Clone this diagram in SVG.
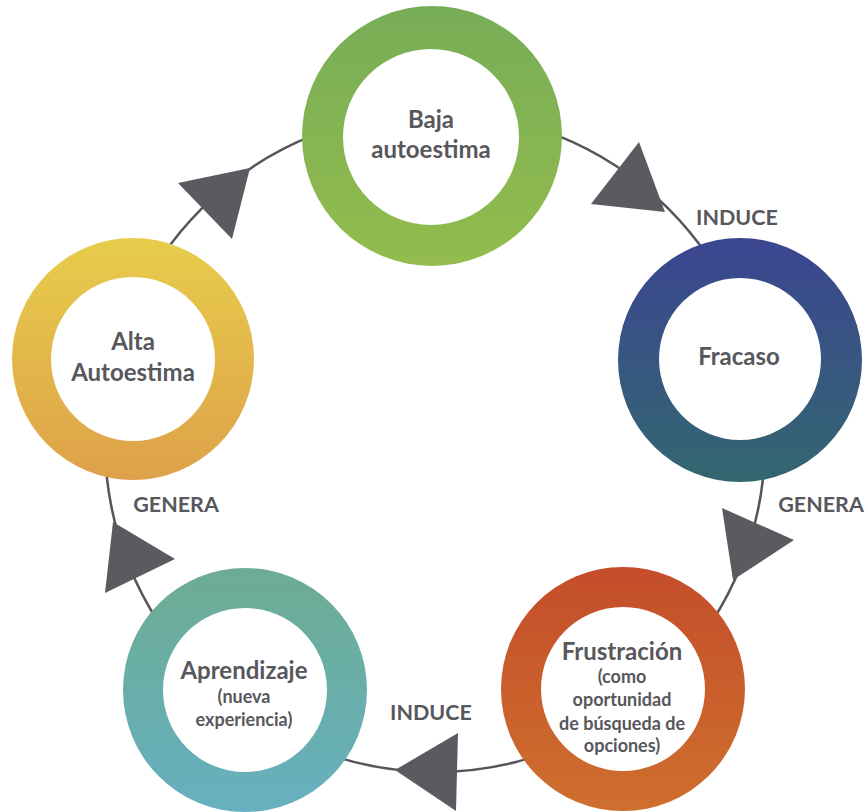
<svg xmlns="http://www.w3.org/2000/svg" width="868" height="812" viewBox="0 0 868 812">
  <defs>
    <linearGradient id="gGreen" x1="0" y1="0" x2="0" y2="1">
      <stop offset="0" stop-color="#77ad57"/>
      <stop offset="1" stop-color="#93bc4d"/>
    </linearGradient>
    <linearGradient id="gBlue" x1="0" y1="0" x2="0" y2="1">
      <stop offset="0" stop-color="#3b4591"/>
      <stop offset="1" stop-color="#336770"/>
    </linearGradient>
    <linearGradient id="gYellow" x1="0" y1="0" x2="0" y2="1">
      <stop offset="0" stop-color="#e7cd4b"/>
      <stop offset="1" stop-color="#dea14a"/>
    </linearGradient>
    <linearGradient id="gOrange" x1="0" y1="0" x2="0" y2="1">
      <stop offset="0" stop-color="#c44d2a"/>
      <stop offset="1" stop-color="#cf6f2e"/>
    </linearGradient>
    <linearGradient id="gTeal" x1="0" y1="0" x2="0" y2="1">
      <stop offset="0" stop-color="#6dac93"/>
      <stop offset="1" stop-color="#66b0c0"/>
    </linearGradient>
  </defs>
  <style>
    .inner { fill: #ffffff; }
    .t { font-family: Lato, "Open Sans", "Liberation Sans", sans-serif; font-weight: bold; fill: #57575c; text-anchor: middle; }
    .big { font-size: 24px; }
    .small { font-size: 18px; }
    .lbl { font-size: 21.5px; }
    .arc { fill: none; stroke: #55555a; stroke-width: 2.5; }
    .arrow { fill: #5b5a60; }
  </style>
  <rect width="868" height="812" fill="#ffffff"/>

  <g id="connectors">
    <circle class="arc" cx="435" cy="442" r="330"/>
    <polygon class="arrow" points="665,212 591,204 639,142"/>
    <polygon class="arrow" points="733,580 794,540 722,508"/>
    <polygon class="arrow" points="395,770 458,733 456,811"/>
    <polygon class="arrow" points="113,522 175,559 105,593"/>
    <polygon class="arrow" points="250,168 232,239 178,183"/>
    <text class="t lbl" x="737" y="225">INDUCE</text>
    <text class="t lbl" x="821" y="512">GENERA</text>
    <text class="t lbl" x="431" y="720">INDUCE</text>
    <text class="t lbl" x="176" y="512">GENERA</text>
  </g>

  <g id="baja">
    <circle cx="432" cy="136" r="130" fill="url(#gGreen)"/>
    <circle class="inner" cx="431" cy="137" r="88"/>
    <text class="t big" x="431" y="128">Baja</text>
    <text class="t big" x="431" y="158">autoestima</text>
  </g>

  <g id="fracaso">
    <circle cx="740" cy="360" r="122" fill="url(#gBlue)"/>
    <circle class="inner" cx="740" cy="359" r="81"/>
    <text class="t big" x="739" y="365">Fracaso</text>
  </g>

  <g id="frustracion">
    <circle cx="623" cy="689" r="122" fill="url(#gOrange)"/>
    <circle class="inner" cx="623" cy="689" r="82"/>
    <text class="t big" x="622" y="660">Frustración</text>
    <text class="t small" x="622" y="683">(como</text>
    <text class="t small" x="622" y="706">oportunidad</text>
    <text class="t small" x="622" y="730">de búsqueda de</text>
    <text class="t small" x="622" y="752">opciones)</text>
  </g>

  <g id="aprendizaje">
    <circle cx="245" cy="690" r="122" fill="url(#gTeal)"/>
    <circle class="inner" cx="245" cy="690" r="82"/>
    <text class="t big" x="244" y="679">Aprendizaje</text>
    <text class="t small" x="244" y="703">(nueva</text>
    <text class="t small" x="244" y="726">experiencia)</text>
  </g>

  <g id="alta">
    <circle cx="133" cy="359" r="121" fill="url(#gYellow)"/>
    <circle class="inner" cx="133" cy="359" r="82"/>
    <text class="t big" x="133" y="350">Alta</text>
    <text class="t big" x="133" y="381">Autoestima</text>
  </g>
</svg>
